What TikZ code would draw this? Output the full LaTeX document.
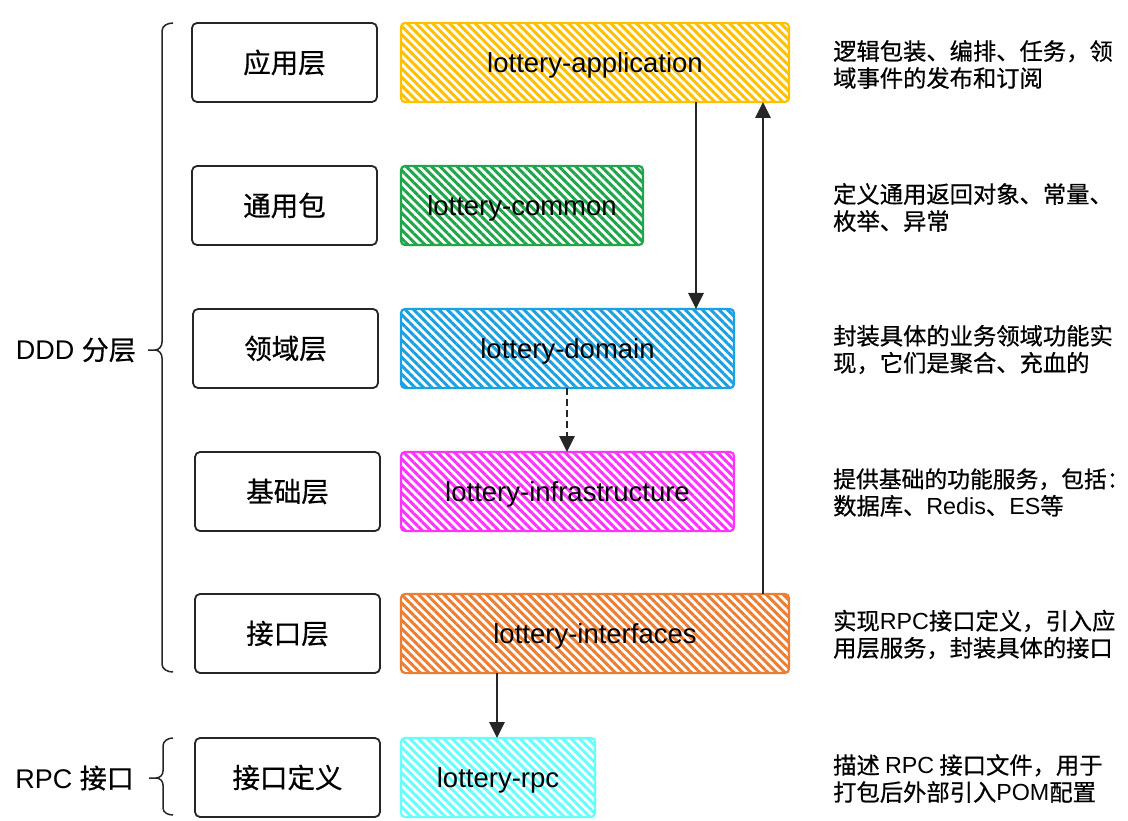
\documentclass[tikz,border=0pt]{standalone}
\usepackage{fontspec}
\setmainfont{Liberation Sans}
\newfontfamily\cjk{Noto Sans CJK SC}[FakeBold=0.6]
\usetikzlibrary{patterns.meta,arrows.meta}
\definecolor{cyel}{HTML}{FFC000}
\definecolor{cgrn}{HTML}{1FA64A}
\definecolor{cblu}{HTML}{1BA1E2}
\definecolor{cmag}{HTML}{FF33FF}
\definecolor{corg}{HTML}{ED7D31}
\definecolor{ccyn}{HTML}{66FFFF}
\definecolor{cdark}{HTML}{262626}
\tikzset{
  layerbox/.style={draw=cdark, line width=1.8pt, rounded corners=5pt, minimum width=185pt, minimum height=79pt, inner sep=0pt, outer sep=0pt, anchor=north west, font=\cjk\fontsize{27.5}{30}\selectfont},
  modbox/.style={draw=#1, line width=2.2pt, rounded corners=4pt, minimum height=79pt, inner sep=0pt, outer sep=0pt, anchor=north west, pattern={Lines[angle=-45,distance=6pt,line width=3pt]}, pattern color=#1, text height=20pt, text depth=0pt, font=\fontsize{27.5}{30}\selectfont},
  desc/.style={anchor=west, align=left, inner sep=0pt, font=\cjk\fontsize{23.3}{27}\selectfont},
  side/.style={anchor=east, inner sep=0pt, font=\fontsize{27}{30}\selectfont},
  conn/.style={draw=cdark, line width=2.8pt, -{Triangle[length=16pt,width=15pt]}},
  bracestyle/.style={draw=cdark, line width=1.5pt},
}
\begin{document}
\begin{tikzpicture}[x=1pt,y=-1pt]
\useasboundingbox (0,0) rectangle (1128,821);
\fill[white] (0,0) rectangle (1128,821);
% layer boxes
\node[layerbox] (l1) at (192,23) {应用层};
\node[layerbox] (l2) at (192,166) {通用包};
\node[layerbox] (l3) at (193,309) {领域层};
\node[layerbox] (l4) at (195,452) {基础层};
\node[layerbox] (l5) at (195,594) {接口层};
\node[layerbox] (l6) at (195,738) {接口定义};
% module boxes
\node[modbox=cyel, minimum width=388pt] (app) at (401,23) {lottery-application};
\node[modbox=cgrn, minimum width=242pt] (com) at (401,166) {lottery-common};
\node[modbox=cblu, minimum width=333pt] (dom) at (401,309) {lottery-domain};
\node[modbox=cmag, minimum width=333pt] (inf) at (401,452) {lottery-infrastructure};
\node[modbox=corg, minimum width=388pt] (itf) at (401,594) {lottery-interfaces};
\node[modbox=ccyn, minimum width=194pt] (rpc) at (401,738) {lottery-rpc};
% descriptions
\node[desc] (d1) at (833,64.5) {逻辑包装、编排、任务，领\\域事件的发布和订阅};
\node[desc] (d2) at (833,207.5) {定义通用返回对象、常量、\\枚举、异常};
\node[desc] (d3) at (833,349.5) {封装具体的业务领域功能实\\现，它们是聚合、充血的};
\node[desc, font=\cjk\fontsize{22.8}{27}\selectfont] (d4) at (833,492.5) {提供基础的功能服务，包括\makebox[0.45em][l]{：}\\{\fontsize{23.3}{27}\selectfont 数据库、{\rmfamily Redis}、{\rmfamily ES}等}};
\node[desc] (d5) at (833,634.5) {实现{\rmfamily RPC}接口定义，引入应\\用层服务，封装具体的接口};
\node[desc] (d6) at (833,778.5) {描述 {\rmfamily RPC} 接口文件，用于\\打包后外部引入{\rmfamily POM}配置};
% side labels
\node[side] (s1) at (136,350) {DDD {\cjk 分层}};
\node[side] (s2) at (134,778) {RPC {\cjk 接口}};
% braces
\draw[bracestyle] (173,23) to[out=180,in=90] (162,31) -- (162,342) to[out=-90,in=0] (155,350) -- (148,350);
\draw[bracestyle] (155,350) to[out=0,in=90] (162,358) -- (162,664) to[out=-90,in=180] (173,672);
\draw[bracestyle] (173,738) to[out=180,in=90] (163,746) -- (163,771) to[out=-90,in=0] (156,778) -- (149,778);
\draw[bracestyle] (156,778) to[out=0,in=90] (163,785) -- (163,808) to[out=-90,in=180] (173,815);
% connectors
\coordinate (x1) at (696,0);
\coordinate (x2) at (763,0);
\coordinate (x3) at (567,0);
\coordinate (x4) at (497,0);
\draw[conn] (app.south -| x1) -- (dom.north -| x1);
\draw[conn] (itf.north -| x2) -- (app.south -| x2);
\draw[conn, dash pattern=on 7pt off 4pt] (dom.south -| x3) -- (inf.north -| x3);
\draw[conn] (itf.south -| x4) -- (rpc.north -| x4);
\end{tikzpicture}
\end{document}
